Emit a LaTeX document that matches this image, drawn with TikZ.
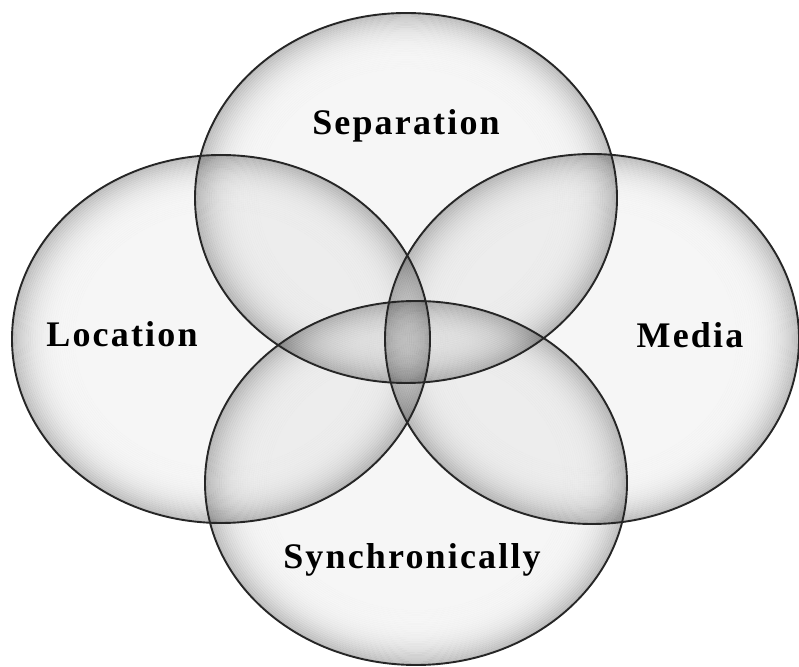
\documentclass[tikz,border=0pt]{standalone}
\usepackage{fontspec}
\newfontfamily\labelfont[LetterSpace=6]{Liberation Serif}
\begin{document}
\begin{tikzpicture}[x=1pt,y=1pt,line width=1.9pt,
    inner sep=0pt,
    setring/.style={even odd rule,blend mode=multiply},
    setrim/.style={draw=black!85},
    setlabel/.style={anchor=base,font=\labelfont\bfseries\fontsize{36}{43}\selectfont}]
    \path[use as bounding box,fill=white] (0,0) rectangle (799,666);
    % separation, location, media, synchronically
    \foreach \cx/\cy/\rx/\ry in {406/468/211/185,221/327/209/184,
                                 592/327/207/185,416/183/211/182} {
      \foreach \k in {0,...,29} {
        \pgfmathsetmacro\fa{1-0.01*\k}
        \pgfmathsetmacro\tpos{max(0,(\fa-0.705)/0.295)}
        \pgfmathsetmacro\shadept{3.5+21*\tpos^3}
        \pgfmathsetmacro\rxa{\fa*\rx}
        \pgfmathsetmacro\rya{\fa*\ry}
        \pgfmathsetmacro\rxb{(\fa-0.01)*\rx}
        \pgfmathsetmacro\ryb{(\fa-0.01)*\ry}
        \fill[setring,black!\shadept] (\cx,\cy) ellipse [x radius=\rxa pt,y radius=\rya pt]
          (\cx,\cy) ellipse [x radius=\rxb pt,y radius=\ryb pt];
      }
      \pgfmathsetmacro\rxb{0.7*\rx}
      \pgfmathsetmacro\ryb{0.7*\ry}
      \fill[setring,black!3.5] (\cx,\cy) ellipse [x radius=\rxb pt,y radius=\ryb pt];
    }
    \foreach \cx/\cy/\rx/\ry in {406/468/211/185,221/327/209/184,
                                 592/327/207/185,416/183/211/182} {
      \draw[setrim] (\cx,\cy) ellipse [x radius=\rx pt,y radius=\ry pt];
    }
    \node[setlabel] (sep) at (406,531) {Separation};
    \node[setlabel] (loc) at (122,319) {Location};
    \node[setlabel] (med) at (690,318) {Media};
    \node[setlabel] (syn) at (412,98) {Synchronically};
  \end{tikzpicture}
\end{document}
